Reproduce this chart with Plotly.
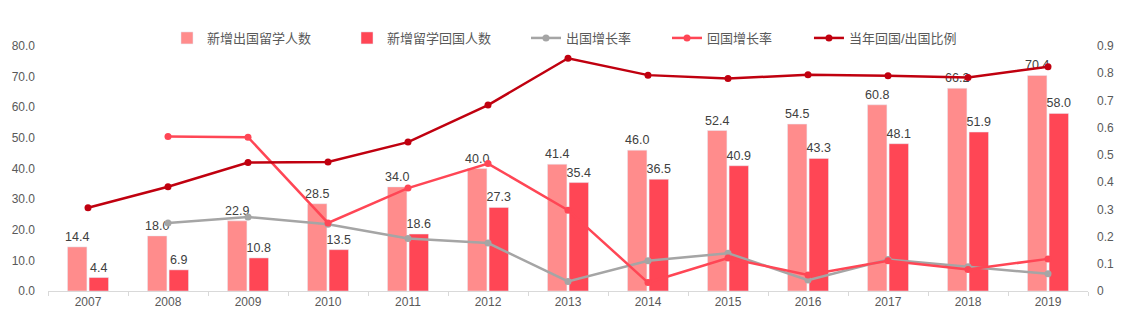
import plotly.graph_objects as go

years = ["2007", "2008", "2009", "2010", "2011", "2012", "2013", "2014", "2015", "2016", "2017", "2018", "2019"]
outbound = [14.4, 18.0, 22.9, 28.5, 34.0, 40.0, 41.4, 46.0, 52.4, 54.5, 60.8, 66.2, 70.4]
returned = [4.4, 6.9, 10.8, 13.5, 18.6, 27.3, 35.4, 36.5, 40.9, 43.3, 48.1, 51.9, 58.0]
out_growth = [None, 0.25, 0.272, 0.245, 0.193, 0.176, 0.035, 0.111, 0.139, 0.040, 0.116, 0.089, 0.063]
ret_growth = [None, 0.568, 0.565, 0.250, 0.378, 0.468, 0.297, 0.031, 0.121, 0.059, 0.111, 0.079, 0.118]
ratio = [0.306, 0.383, 0.472, 0.474, 0.547, 0.683, 0.855, 0.793, 0.781, 0.794, 0.791, 0.784, 0.824]

FONT = "Arial, 'Liberation Sans', 'Noto Sans CJK SC', sans-serif"
C_PINK = "#FF8C8C"
C_RED = "#FF4655"
C_GRAY = "#A5A5A5"
C_DARK = "#C0000F"
TXT = "#404040"

fig = go.Figure()
fig.add_trace(go.Bar(x=years, y=outbound, name="新增出国留学人数", marker_color=C_PINK, legend="legend",
                     text=[f"{v:.1f}" for v in outbound], textposition="outside", constraintext="none",
                     textfont=dict(size=12.5, color=TXT), cliponaxis=False))
fig.add_trace(go.Bar(x=years, y=returned, name="新增留学回国人数", marker_color=C_RED, legend="legend2",
                     text=[f"{v:.1f}" for v in returned], textposition="outside", constraintext="none",
                     textfont=dict(size=12.5, color=TXT), cliponaxis=False))
fig.add_trace(go.Scatter(x=years, y=out_growth, name="出国增长率", yaxis="y2", mode="lines+markers",
                         legend="legend3",
                         line=dict(color=C_GRAY, width=2.5), marker=dict(size=7, color=C_GRAY)))
fig.add_trace(go.Scatter(x=years, y=ret_growth, name="回国增长率", yaxis="y2", mode="lines+markers",
                         legend="legend4",
                         line=dict(color=C_RED, width=2.5), marker=dict(size=7, color=C_RED)))
fig.add_trace(go.Scatter(x=years, y=ratio, name="当年回国/出国比例", yaxis="y2", mode="lines+markers",
                         legend="legend5",
                         line=dict(color=C_DARK, width=2.5), marker=dict(size=7, color=C_DARK)))

def leg(x):
    return dict(orientation="h", x=x, xanchor="left", y=1.0327, yanchor="middle",
                font=dict(size=13, color="#595959"), bgcolor="rgba(0,0,0,0)", borderwidth=0)

fig.update_layout(
    width=1126, height=322,
    margin=dict(l=48, r=38, t=46, b=31, autoexpand=False),
    paper_bgcolor="white", plot_bgcolor="white",
    font=dict(family=FONT, size=12, color="#595959"),
    barmode="group", bargap=0.46, bargroupgap=0.1,
    showlegend=True,
    legend=leg(0.1144), legend2=leg(0.2875), legend3=leg(0.4596), legend4=leg(0.5952), legend5=leg(0.7317),
    xaxis=dict(type="category", range=[-0.5, len(years) - 0.5], showgrid=False, showline=True,
               linecolor="#D9D9D9", linewidth=1,
               ticks="outside", tickson="boundaries", ticklen=4, tickcolor="#D9D9D9", automargin=False,
               tickfont=dict(size=12, color="#595959")),
    yaxis=dict(range=[0, 80], dtick=10, tickformat=".1f", showgrid=False, zeroline=False, automargin=False,
               showline=False, ticks="", tickfont=dict(size=12, color="#595959"), ticklabelstandoff=12),
    yaxis2=dict(range=[0, 0.9], dtick=0.1, overlaying="y", side="right", showgrid=False, automargin=False,
                zeroline=False, showline=False, tickfont=dict(size=12, color="#595959"),
                ticklabelstandoff=8),
)

fig.write_html("out.html")
